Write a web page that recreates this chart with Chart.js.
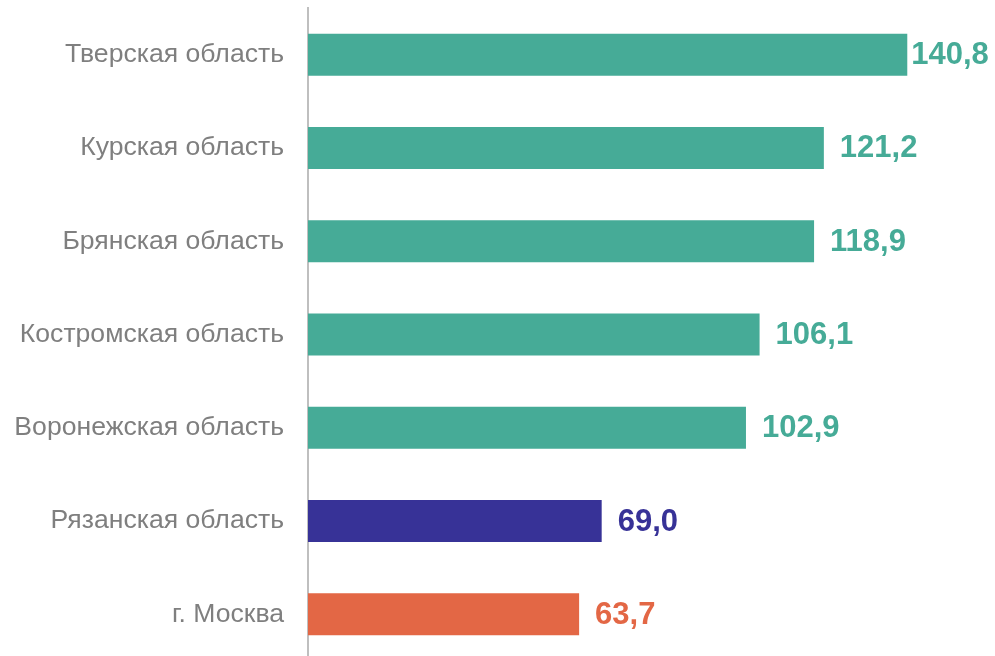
<!DOCTYPE html>
<html>
<head>
<meta charset="utf-8">
<script src="https://cdn.jsdelivr.net/npm/chart.js@4/dist/chart.umd.min.js"></script>
<style>
  html, body { margin: 0; padding: 0; background: #fff; overflow: hidden; }
  body { width: 995px; height: 656px; }
  #wrap { position: relative; width: 995px; height: 662px; }
</style>
</head>
<body>
<div id="wrap"><canvas id="c"></canvas></div>
<script>
const categories = ['Тверская область', 'Курская область', 'Брянская область', 'Костромская область', 'Воронежская область', 'Рязанская область', 'г. Москва'];
const values = [140.8, 121.2, 118.9, 106.1, 102.9, 69.0, 63.7];
const barColors = ['#46AB97', '#46AB97', '#46AB97', '#46AB97', '#46AB97', '#373297', '#E36745'];

const valueLabels = {
  id: 'valueLabels',
  afterDatasetsDraw(chart) {
    const ctx = chart.ctx;
    const meta = chart.getDatasetMeta(0);
    ctx.save();
    ctx.font = 'bold 31px "Liberation Sans", Arial, sans-serif';
    ctx.textBaseline = 'middle';
    ctx.textAlign = 'left';
    meta.data.forEach((bar, i) => {
      const txt = values[i].toFixed(1).replace('.', ',');
      const w = ctx.measureText(txt).width;
      let x = bar.x + 16;
      if (x + w > chart.width - 4) x = bar.x + 4;
      ctx.fillStyle = barColors[i];
      ctx.fillText(txt, x, bar.y + 1);
    });
    ctx.restore();
  }
};

new Chart(document.getElementById('c'), {
  type: 'bar',
  data: {
    labels: categories,
    datasets: [{
      data: values,
      backgroundColor: barColors,
      borderWidth: 0,
      barPercentage: 0.45,
      categoryPercentage: 1.0
    }]
  },
  options: {
    indexAxis: 'y',
    responsive: true,
    maintainAspectRatio: false,
    animation: false,
    layout: { padding: { top: 8, bottom: 1, left: 0, right: 6 } },
    plugins: { legend: { display: false }, tooltip: { enabled: false } },
    scales: {
      x: {
        display: false,
        min: 0,
        max: 160
      },
      y: {
        afterFit(scale) {
          scale.width = 308;
          scale.paddingTop = 0;
          scale.paddingBottom = 0;
        },
        grid: { display: false, drawTicks: true, tickLength: 24 },
        border: { display: true, color: '#BFBFBF', width: 2 },
        ticks: {
          padding: 0,
          color: '#7F7F7F',
          font: { family: '"Liberation Sans", Arial, sans-serif', size: 26.6 }
        }
      }
    }
  },
  plugins: [valueLabels]
});
</script>
</body>
</html>
